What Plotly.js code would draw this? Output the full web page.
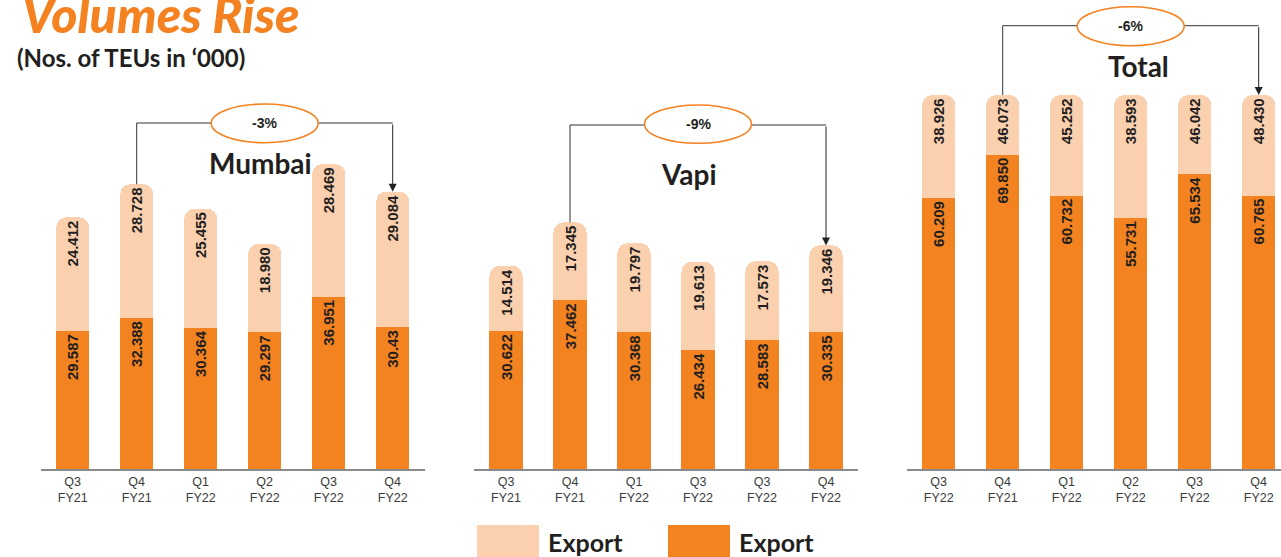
<!DOCTYPE html>
<html><head><meta charset="utf-8">
<script src="https://cdn.plot.ly/plotly-3.0.1.min.js"></script>
<style>html,body{margin:0;padding:0;background:#fff;} #chart{width:1281px;height:557px;}</style>
</head><body><div id="chart"></div>
<script>
// ---- data ----
const mumbaiLabels = ['Q3<br>FY21','Q4<br>FY21','Q1<br>FY22','Q2<br>FY22','Q3<br>FY22','Q4<br>FY22'];
const vapiLabels   = ['Q3<br>FY21','Q4<br>FY21','Q1<br>FY22','Q3<br>FY22','Q3<br>FY22','Q4<br>FY22'];
const totalLabels  = ['Q3<br>FY22','Q4<br>FY21','Q1<br>FY22','Q2<br>FY22','Q3<br>FY22','Q4<br>FY22'];
const mumbaiLight = ['24.412','28.728','25.455','18.980','28.469','29.084'];
const mumbaiDark  = ['29.587','32.388','30.364','29.297','36.951','30.43'];
const vapiLight   = ['14.514','17.345','19.797','19.613','17.573','19.346'];
const vapiDark    = ['30.622','37.462','30.368','26.434','28.583','30.335'];
const totalLight  = ['38.926','46.073','45.252','38.593','46.042','48.430'];
const totalDark   = ['60.209','69.850','60.732','55.731','65.534','60.765'];
const changes = ['-3%','-9%','-6%'];
const panelTitles = ['Mumbai','Vapi','Total'];
const legendNames = ['Export','Export'];

// ---- layout constants ----
const W = 1281, H = 557, BASE = 469;
const LIGHT = '#FAD0AF', DARK = '#F38220', ORANGE = '#F58220', INK = '#231F20';
const scale = [4.66, 4.5, 4.5];           // px per unit
const xDomPx = [[40.7,424.7],[474,858],[906.7,1281]];
const CAP_PX = 95;                         // Total panel columns are capped in the original
const panels = [
  {lab: mumbaiLabels, light: mumbaiLight, dark: mumbaiDark},
  {lab: vapiLabels, light: vapiLight, dark: vapiDark},
  {lab: totalLabels, light: totalLight, dark: totalDark, capped: true}
];
const levelPx = [123, 125, 25.7];
const ellPx = [[104,142.7],[105,143.3],[6.7,45.7]];
const titlePx = [[260,163],[689,174],[1138,66]];

const R = scale.map(s => BASE / s);
const yOf = (p, px) => (BASE - px) / scale[p];
const py = px => (H - px) / H;
const xs = [0,1,2,3,4,5];

const traces = [], shapes = [], annotations = [];
const layout = {
  width: W, height: H, margin: {l:0,r:0,t:0,b:0},
  paper_bgcolor: '#fff', plot_bgcolor: 'rgba(0,0,0,0)',
  barmode: 'stack', bargap: 0.484, barcornerradius: 10,
  showlegend: false, font: {family: 'Liberation Sans, Arial, sans-serif', color: INK}
};

panels.forEach((pn, p) => {
  const xa = p === 0 ? 'x' : 'x' + (p+1), ya = p === 0 ? 'y' : 'y' + (p+1);
  const dark = pn.dark.map(Number), light = pn.light.map(Number);
  const cap = yOf(p, CAP_PX);
  const lightShown = pn.capped ? light.map((v,i) => Math.min(v, cap - dark[i])) : light;
  const tf = {family: 'Liberation Sans, Arial, sans-serif', size: 15, color: INK, weight: 'bold'};
  traces.push({type:'bar', x: xs, y: dark, xaxis: xa, yaxis: ya, name: legendNames[1],
    marker: {color: DARK, line: {width: 0}}, text: pn.dark, texttemplate: '%{text}',
    textposition: 'inside', insidetextanchor: 'end', textangle: -90, textfont: tf,
    constraintext: 'none', hoverinfo: 'skip'});
  traces.push({type:'bar', x: xs, y: lightShown, xaxis: xa, yaxis: ya, name: legendNames[0],
    marker: {color: LIGHT, line: {width: 0}}, text: pn.light, texttemplate: '%{text}',
    textposition: 'inside', insidetextanchor: 'end', textangle: -90, textfont: tf,
    constraintext: 'none', hoverinfo: 'skip'});
  const rng = p === 2 ? [-0.5, -0.5 + (W - xDomPx[2][0]) / 64] : [-0.5, 5.5];
  layout[(p===0?'xaxis':'xaxis'+(p+1))] = {
    domain: [xDomPx[p][0]/W, xDomPx[p][1]/W], range: rng, anchor: ya,
    tickvals: xs, ticktext: pn.lab, showline: true, linecolor: '#8a8a8a', linewidth: 2,
    showgrid: false, zeroline: false, ticks: '', fixedrange: true,
    tickfont: {family: 'Liberation Sans, Arial, sans-serif', size: 12.5, color: '#3a3a3a'}
  };
  layout[(p===0?'yaxis':'yaxis'+(p+1))] = {
    domain: [py(BASE), 1], range: [0, R[p]], anchor: xa, visible: false, fixedrange: true
  };
  const top = i => dark[i] + lightShown[i];
  const lvl = yOf(p, levelPx[p]);
  const hw = 107 / 64 / 2;
  shapes.push({type:'path', xref: xa, yref: ya,
    path: `M 1,${top(1)} L 1,${lvl} L ${3-hw},${lvl} M ${3+hw},${lvl} L 5,${lvl}`,
    line: {color: '#333', width: 1}});
  shapes.push({type:'circle', xref: xa, yref: ya, x0: 3-hw, x1: 3+hw,
    y0: yOf(p, ellPx[p][1]), y1: yOf(p, ellPx[p][0]), line: {color: ORANGE, width: 1.6}, fillcolor: 'rgba(0,0,0,0)'});
  annotations.push({xref: xa, yref: ya, x: 5, y: top(5), ax: 5, ay: lvl, axref: xa, ayref: ya,
    text: '', showarrow: true, arrowhead: 2, arrowsize: 1.6, arrowwidth: 1, arrowcolor: '#222', standoff: 0});
  annotations.push({xref: xa, yref: ya, x: 3, y: (yOf(p, ellPx[p][1]) + yOf(p, ellPx[p][0]))/2,
    text: changes[p], showarrow: false, font: {family: 'Liberation Sans, Arial, sans-serif', size: 14, weight: 'bold', color: INK}});
  annotations.push({xref: 'paper', yref: 'paper', x: titlePx[p][0]/W, y: py(titlePx[p][1]),
    text: panelTitles[p], showarrow: false, xanchor: 'center', yanchor: 'middle',
    font: {family: 'Lato, sans-serif', size: 28, weight: 'bold', color: INK}});
});

// headings
annotations.push({xref:'paper', yref:'paper', x: 20/W, y: py(14), xanchor:'left', yanchor:'middle', showarrow:false,
  text: 'Volumes Rise', font: {family: 'Lato, sans-serif', size: 50, weight: 900, style: 'italic', color: ORANGE}});
annotations.push({xref:'paper', yref:'paper', x: 15/W, y: py(57), xanchor:'left', yanchor:'middle', showarrow:false,
  text: '(Nos. of TEUs in \u2018000)', font: {family: 'Lato, sans-serif', size: 24, weight: 'bold', color: INK}});

// legend swatches
[[477, LIGHT, legendNames[0]], [668, DARK, legendNames[1]]].forEach(([x0, col, name]) => {
  shapes.push({type:'rect', xref:'paper', yref:'paper', x0: x0/W, x1: (x0+62)/W, y0: 0, y1: py(525),
    fillcolor: col, line: {width: 0}});
  annotations.push({xref:'paper', yref:'paper', x: (x0+69)/W, y: py(542), xanchor:'left', yanchor:'middle',
    showarrow:false, text: name, font: {family:'Lato, sans-serif', size: 25, weight:'bold', color: INK}});
});

layout.shapes = shapes;
layout.annotations = annotations;
Plotly.newPlot('chart', traces, layout, {displayModeBar: false, staticPlot: true});
</script>
</body></html>
